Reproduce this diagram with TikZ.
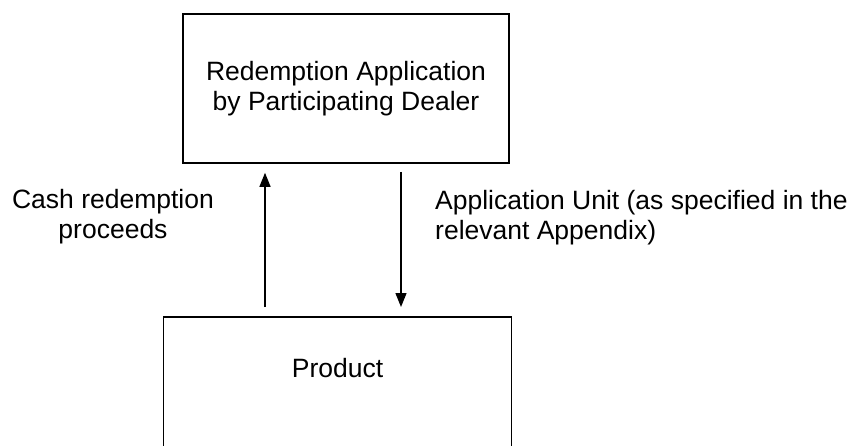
\documentclass[tikz,border=0pt]{standalone}
\usepackage{fontspec}
\setmainfont{Liberation Sans}
\usetikzlibrary{arrows.meta}
\begin{document}
\begin{tikzpicture}[x=1pt,y=-1pt,
  boxnode/.style={draw=black, line width=1.6pt, rectangle, inner sep=0pt, align=center},
  txt/.style={inner sep=0pt, font=\fontsize{26.5}{30}\selectfont},
  arr/.style={line width=1.3pt, -{Triangle[length=14pt,width=11pt]}}]
\clip (0,0) rectangle (852,445);
\node[boxnode, txt, minimum width=326pt, minimum height=149pt] (top) at (346,88.5)
  {Redemption Application\\by Participating Dealer};
\node[boxnode, minimum width=348pt, minimum height=160pt, anchor=north] (prod) at (337.5,316) {};
\node[txt] (prodtext) at (337.5,368) {Product};
\coordinate (ux) at (265,0);
\coordinate (dx) at (401,0);
\draw[arr, shorten <=9pt, shorten >=9pt] (prod.north -| ux) -- (top.south -| ux);
\draw[arr, shorten <=8pt, shorten >=9pt] (top.south -| dx) -- (prod.north -| dx);
\node[txt, align=center] (cash) at (113,217) {Cash redemption\\proceeds};
\node[txt, align=left, anchor=west] (appunit) at (435,218) {Application Unit (as specified in the\\relevant Appendix)};
\end{tikzpicture}
\end{document}
